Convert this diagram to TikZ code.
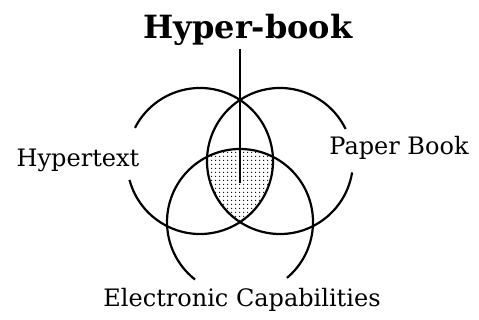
\documentclass[tikz,border=0pt]{standalone}
\usepackage{fontspec}
\setmainfont{DejaVu Serif}
\usetikzlibrary{patterns.meta}
\tikzdeclarepattern{name=bigdots,type=uncolored,
  bottom left={(-2pt,-2pt)},top right={(2pt,2pt)},tile size={(4pt,4pt)},
  code={\fill (0pt,0pt) circle (0.8pt);}}
\begin{document}
\begin{tikzpicture}[x=1pt,y=1pt,line width=2.2pt,
  label text/.style={font=\fontsize{24}{26}\selectfont,inner sep=0pt}]
\useasboundingbox (0,0) rectangle (479,320);

\begin{scope}
\clip (200,159) circle (73);
\clip (280,159) circle (73);
\fill[pattern=bigdots] (240,98) circle (73);
\end{scope}

\draw (200,159) ++(-165:73) arc (-165:153:73);
\draw (280,159) ++(26:73) arc (26:351:73);
\draw (240,98) ++(-50:73) arc (-50:232:73);

\node[font=\fontsize{32}{34}\selectfont\bfseries,inner sep=0pt] (hyperbook) at (248,290) {Hyper-book};
\coordinate (core) at (240,137);
\draw[line width=1.6pt] ([yshift=-2pt]hyperbook.south -| core) -- (core);

\node[label text] (hypertext) at (78,160) {Hypertext};
\node[label text] (paperbook) at (399,172) {Paper Book};
\node[label text] (electronic) at (242,20) {Electronic Capabilities};
\end{tikzpicture}
\end{document}
